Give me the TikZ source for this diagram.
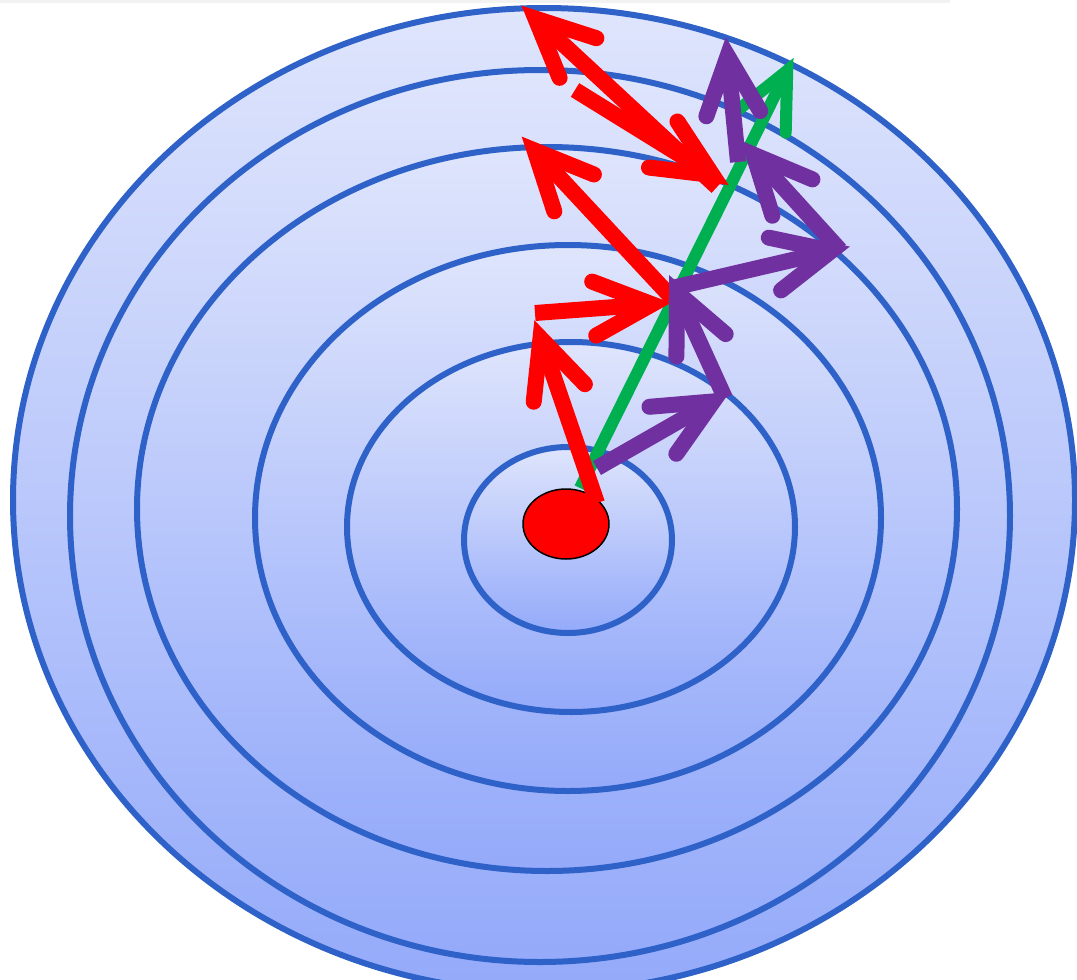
\documentclass[tikz,border=0pt]{standalone}
\usetikzlibrary{calc,shadows}
\definecolor{ring}{RGB}{46,98,200}
\definecolor{ftop}{RGB}{223,229,252}
\definecolor{fbot}{RGB}{148,170,250}
\definecolor{pptred}{RGB}{255,0,0}
\definecolor{pptpurple}{RGB}{112,48,160}
\definecolor{pptgreen}{RGB}{0,176,80}
% #1 style, #2 tail, #3 tip (outer point), #4 tip inset, #5 barb length
\newcommand\arw[5]{%
  \coordinate (aV) at ($(#3)!#4!(#2)$);
  \draw[#1,line cap=butt] (#2) -- (aV);
  \draw[#1,line cap=round,line join=miter,miter limit=10]
    ($(aV)!#5!25:(#2)$) -- (aV) -- ($(aV)!#5!-25:(#2)$);
}
\begin{document}
\begin{tikzpicture}[x=1pt,y=-1pt,
  ringst/.style={draw=ring,line width=6pt,top color=ftop,bottom color=fbot,
    drop shadow={opacity=0.25,shadow xshift=0.5pt,shadow yshift=-2.5pt}},
  redarr/.style={draw=pptred,line width=16pt},
  purarr/.style={draw=pptpurple,line width=16pt},
  grnarr/.style={draw=pptgreen,line width=12pt}]
\useasboundingbox (0,0) rectangle (1077,980);
\fill[black!5] (0,0) rectangle (950,3);
% rings
\path[ringst] (544,500) ellipse [x radius=531, y radius=492];
\path[ringst] (540,516) ellipse [x radius=470, y radius=446];
\path[ringst] (547,509) ellipse [x radius=410, y radius=362];
\path[ringst] (568,518) ellipse [x radius=313, y radius=273];
\path[ringst] (571,527) ellipse [x radius=224, y radius=185];
\path[ringst] (568,540) ellipse [x radius=104, y radius=93];
% source dot
\coordinate (dot) at (566,524);
\fill[pptred, draw=black, line width=1.5pt] (dot) ellipse [x radius=43, y radius=35];
% coordinates
\coordinate (gt) at (580,488);  \coordinate (gh) at (793,59);
\coordinate (r1t) at (597,503); \coordinate (r1h) at (535,322);
\coordinate (r2t) at (535,313); \coordinate (r2h) at (669,303);
\coordinate (r3t) at (672,298); \coordinate (r3h) at (523,138);
\coordinate (r4t) at (575,90);  \coordinate (r4h) at (727,184);
\coordinate (r5t) at (717,187); \coordinate (r5h) at (523,7);
\coordinate (p1t) at (597,468); \coordinate (p1h) at (728,393);
\coordinate (p2t) at (725,398); \coordinate (p2h) at (670,277);
\coordinate (p3t) at (672,288); \coordinate (p3h) at (848,247);
\coordinate (p4t) at (840,250); \coordinate (p4h) at (742,142);
\coordinate (p5t) at (738,162); \coordinate (p5h) at (726,39);
% green
\arw{grnarr}{gt}{gh}{13pt}{62pt}
% red
\arw{redarr}{r1t}{r1h}{17pt}{64pt}
\arw{redarr}{r2t}{r2h}{17pt}{64pt}
\arw{redarr}{r3t}{r3h}{17pt}{64pt}
\arw{redarr}{r5t}{r5h}{17pt}{64pt}
\arw{redarr}{r4t}{r4h}{17pt}{64pt}
% purple
\arw{purarr}{p1t}{p1h}{17pt}{64pt}
\arw{purarr}{p2t}{p2h}{17pt}{64pt}
\arw{purarr}{p3t}{p3h}{17pt}{64pt}
\arw{purarr}{p4t}{p4h}{17pt}{64pt}
\arw{purarr}{p5t}{p5h}{17pt}{64pt}
\end{tikzpicture}
\end{document}
